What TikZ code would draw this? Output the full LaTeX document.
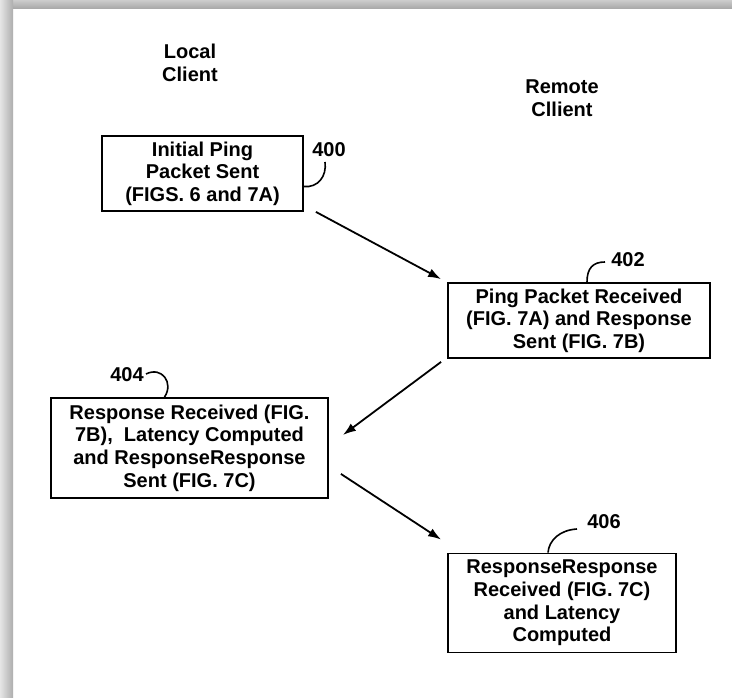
\documentclass[tikz,border=0pt]{standalone}
\usepackage{fontspec}
\setmainfont{Liberation Sans}
\usetikzlibrary{arrows.meta}
\begin{document}
\begin{tikzpicture}[x=1pt,y=-1pt,
  box/.style={draw,line width=1.8pt,align=center,inner sep=0pt,font=\bfseries\fontsize{20}{22.6}\selectfont},
  lbl/.style={font=\bfseries\fontsize{20}{22.6}\selectfont,align=center},
  arr/.style={line width=1.8pt,-{Latex[length=13pt,width=9pt]}},
  hook/.style={line width=1.6pt}]
\useasboundingbox (0,0) rectangle (732,698);
\fill[white] (0,0) rectangle (732,698);
\shade[top color=black!20,bottom color=black!35] (0,0) rectangle (732,9);
\shade[left color=black!10,right color=black!32] (0,0) rectangle (13,698);

\node[lbl] (local) at (190,63) {Local\\Client};
\node[lbl] (remote) at (562,98) {Remote\\Cllient};

\node[box,minimum width=201pt,minimum height=75pt] (b400) at (202.5,173.5) {Initial Ping\\Packet Sent\\(FIGS. 6 and 7A)};
\node[box,minimum width=262pt,minimum height=75pt] (b402) at (579,320.5) {Ping Packet Received\\(FIG. 7A) and Response\\Sent (FIG. 7B)};
\node[box,minimum width=277pt,minimum height=100pt] (b404) at (189.5,448) {Response Received (FIG.\\7B),\ \ Latency Computed\\and ResponseResponse\\Sent (FIG. 7C)};
\node[box,minimum width=228pt,minimum height=99pt] (b406) at (562,603) {ResponseResponse\\Received (FIG. 7C)\\and Latency\\Computed};

\node[lbl] (n400) at (329,150) {400};
\node[lbl] (n402) at (628,260) {402};
\node[lbl] (n404) at (127,375) {404};
\node[lbl] (n406) at (604,522) {406};

\coordinate (h400) at (325,162);
\draw[hook] ([yshift=-13pt]b400.east) .. controls (318,188) and (327,176) .. (h400);
\coordinate (h402) at (605,262);
\draw[hook] ([xshift=8pt]b402.north) .. controls (587,268) and (593,262) .. (h402);
\coordinate (h404) at (146,374);
\draw[hook] (h404) .. controls (162,366) and (174,383) .. ([xshift=-25pt]b404.north);
\coordinate (h406) at (577,529);
\draw[hook] ([xshift=-14pt]b406.north) .. controls (549,540) and (560,530) .. (h406);

\draw[arr] ([shift={(12,0)}]b400.south east) -- ([shift={(-6,-3)}]b402.north west);
\draw[arr] ([shift={(-6,3)}]b402.south west) -- ([shift={(14,-13)}]b404.east);
\draw[arr] ([shift={(12,-25)}]b404.south east) -- ([shift={(-6,-13)}]b406.north west);
\end{tikzpicture}
\end{document}
